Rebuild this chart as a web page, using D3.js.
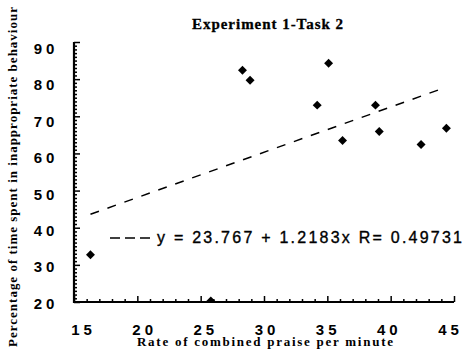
<!DOCTYPE html>
<html>
<head>
<meta charset="utf-8">
<script src="https://cdn.jsdelivr.net/npm/d3@7"></script>
<style>
  html, body { margin: 0; padding: 0; background: #fff; }
  svg { display: block; }
</style>
</head>
<body>
<svg id="chart" width="467" height="355"></svg>
<script>
// Rate of combined praise per minute vs. % time in inappropriate behaviour
const rate = [16.3, 25.8, 28.3, 28.9, 34.2, 35.1, 36.2, 38.8, 39.1, 42.4, 44.4];
const pct  = [32.7, 20.3, 82.4, 79.7, 73.0, 84.3, 63.5, 73.0, 65.9, 62.4, 66.8];

// least-squares fit reported on the chart
const intercept = 23.767;
const slope = 1.2183;
const rValue = 0.49731;

const xTickLabels = [15, 20, 25, 30, 35, 40, 45];
const yTickLabels = [20, 30, 40, 50, 60, 70, 80, 90];
const xMinorTicks = d3.range(15, 46, 1);
const yMinorTicks = d3.range(20, 91, 1);

const svg = d3.select("#chart");

const x = d3.scaleLinear().domain([15, 45]).range([74, 454]);
const y = d3.scaleLinear().domain([20, 90]).range([302, 42]);
// tick labels sit on their own, slightly narrower spread
const xLab = d3.scaleLinear().domain([15, 45]).range([81, 448]);
const yLab = d3.scaleLinear().domain([20, 90]).range([303, 48]);

const serif = "'Liberation Serif', 'Times New Roman', serif";
const sans = "'Liberation Sans', Arial, sans-serif";

// plot area clip: marks never spill below the x axis
svg.append("defs").append("clipPath").attr("id", "plot")
  .append("rect").attr("x", 74).attr("y", 0).attr("width", 393).attr("height", 302);

// title
svg.append("text")
  .attr("x", 192).attr("y", 28.5)
  .attr("textLength", 151).attr("lengthAdjust", "spacing")
  .style("font-family", serif).style("font-weight", "bold").style("font-size", "15px")
  .attr("stroke", "#000").attr("stroke-width", 0.3)
  .text("Experiment 1-Task 2");

// regression line across the observed range
const xr = d3.extent(rate);
svg.append("line")
  .attr("x1", x(xr[0])).attr("y1", y(intercept + slope * xr[0]))
  .attr("x2", x(xr[1])).attr("y2", y(intercept + slope * xr[1]))
  .attr("stroke", "#000").attr("stroke-width", 1.5)
  .attr("stroke-dasharray", "9,9");

// points
const diamond = d3.symbol().type(d3.symbolSquare).size(40);
svg.append("g").attr("clip-path", "url(#plot)").selectAll("path")
  .data(rate.map((r, i) => [r, pct[i]]))
  .join("path")
  .attr("d", diamond)
  .attr("transform", d => `translate(${x(d[0])},${y(d[1])}) rotate(45)`)
  .attr("fill", "#000");

// axes with inward ticks, longer at the labelled values
function tickLen(major) {
  return v => (Math.abs(v % major) < 1e-9 ? 6 : 3);
}

const yAxis = svg.append("g").attr("transform", "translate(74,0)")
  .call(d3.axisLeft(y).tickValues(yMinorTicks).tickFormat("").tickSizeOuter(0));
yAxis.select(".domain").attr("stroke-width", 2.2).attr("d", `M0,${y(90)}V${y(20) + 1}`);
yAxis.selectAll(".tick line")
  .attr("x2", d => tickLen(10)(d)).attr("stroke-width", 1.5);

const xAxis = svg.append("g").attr("transform", "translate(0,302)")
  .call(d3.axisBottom(x).tickValues(xMinorTicks).tickFormat("").tickSizeOuter(0));
xAxis.select(".domain").attr("stroke-width", 2.2).attr("d", `M${x(15) - 1},0H${x(45)}`);
xAxis.selectAll(".tick line")
  .attr("y2", d => -tickLen(5)(d)).attr("stroke-width", 1.5);

// tick labels
const yLabels = svg.append("g").attr("transform", "translate(46,0)")
  .call(d3.axisLeft(yLab).tickValues(yTickLabels).tickSize(0).tickPadding(0));
yLabels.select(".domain").remove();
yLabels.selectAll("text")
  .attr("x", 0).attr("dy", "0.36em")
  .attr("text-anchor", "middle")
  .style("font-family", sans).style("font-size", "15px").style("font-weight", "bold")
  .style("letter-spacing", "4px").attr("fill", "#000");

const xLabels = svg.append("g").attr("transform", "translate(2,0)")
  .call(d3.axisBottom(xLab).tickValues(xTickLabels).tickSize(0).tickPadding(0));
xLabels.select(".domain").remove();
xLabels.selectAll("text")
  .attr("y", 335).attr("dy", null)
  .attr("text-anchor", "middle")
  .style("font-family", sans).style("font-size", "15px").style("font-weight", "bold")
  .style("letter-spacing", "4px").attr("fill", "#000");

// axis titles
svg.append("text")
  .attr("x", 137).attr("y", 346)
  .attr("textLength", 256).attr("lengthAdjust", "spacing")
  .style("font-family", serif).style("font-weight", "bold").style("font-size", "13px")
  .text("Rate of combined praise per minute");

svg.append("text")
  .attr("transform", "translate(17,347) rotate(-90)")
  .attr("textLength", 340).attr("lengthAdjust", "spacing")
  .style("font-family", serif).style("font-weight", "bold").style("font-size", "13px")
  .text("Percentage of time spent in inappropriate behaviour");

// legend for the fitted line
svg.append("line")
  .attr("x1", 110).attr("x2", 153).attr("y1", 238).attr("y2", 238)
  .attr("stroke", "#000").attr("stroke-width", 1.5)
  .attr("stroke-dasharray", "10,5");
svg.append("text")
  .attr("x", 157).attr("y", 243)
  .attr("textLength", 305).attr("lengthAdjust", "spacing")
  .style("font-family", sans).style("font-size", "16px")
  .attr("stroke", "#000").attr("stroke-width", 0.35)
  .text(`y = ${intercept} + ${slope}x R= ${rValue}`);
</script>
</body>
</html>
